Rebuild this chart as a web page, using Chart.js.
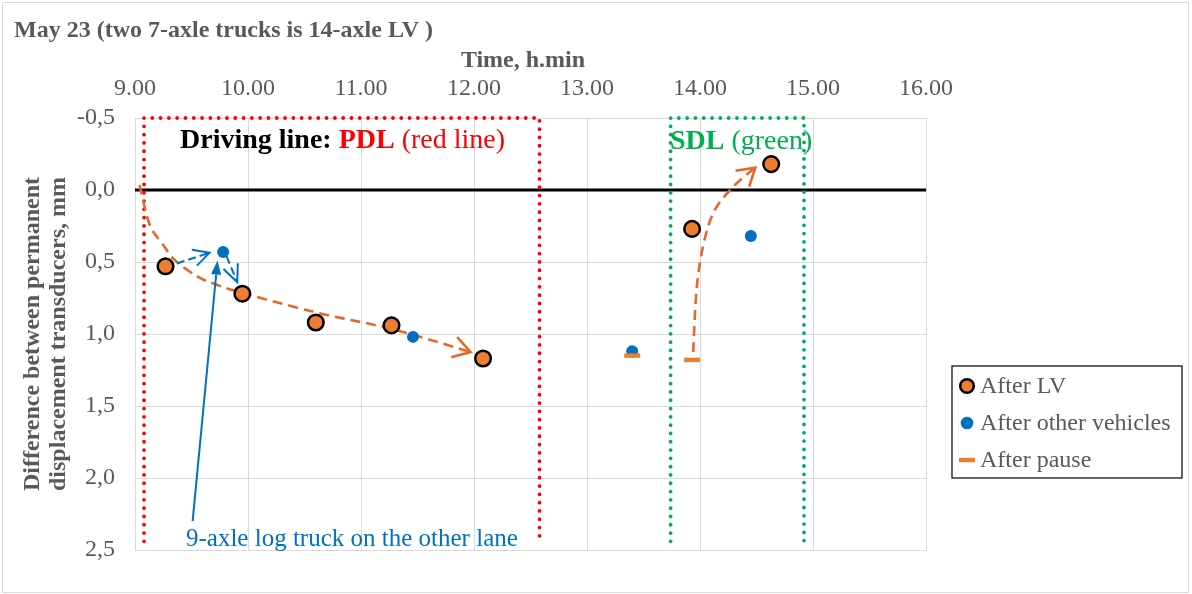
<!DOCTYPE html>
<html>
<head>
<meta charset="utf-8">
<script src="https://cdn.jsdelivr.net/npm/chart.js@4.4.1/dist/chart.umd.min.js"></script>
<style>
  html, body { margin: 0; padding: 0; background: #ffffff; }
  #wrap { position: relative; width: 1192px; height: 594px; }
</style>
</head>
<body>
<div id="wrap"><canvas id="c" width="1192" height="594"></canvas></div>
<script>
// Time of day (h.min) and difference between permanent displacement transducers (mm)
const timeTicks = [9, 10, 11, 12, 13, 14, 15, 16];
const diffTicks = [-0.5, 0, 0.5, 1.0, 1.5, 2.0, 2.5];

const lvTime = [9.27, 9.95, 10.60, 11.27, 12.08, 13.93, 14.63];
const lvDiff = [0.53, 0.72, 0.92, 0.94, 1.17, 0.27, -0.18];

const otherTime = [9.78, 11.46, 13.40, 14.45];
const otherDiff = [0.43, 1.02, 1.12, 0.32];

const pauseTime = [13.40, 13.93];
const pauseDiff = [1.15, 1.18];

// Lane windows: PDL (red) and SDL (green)
const pdlWindow = [9.08, 12.58];
const sdlWindow = [13.74, 14.92];

// Hand-drawn trend arrows (time, mm)
const pdlTrend = [[9.04, -0.035], [9.13, 0.24], [9.24, 0.37], [9.35, 0.485], [9.55, 0.60],
                  [9.73, 0.66], [9.93, 0.71], [10.60, 0.85], [11.27, 0.965], [11.97, 1.125]];
const sdlTrend = [[13.94, 1.125], [13.97, 0.69], [14.03, 0.38], [14.13, 0.14], [14.31, -0.035], [14.49, -0.155]];
const blueArrowA = [[9.37, 0.51], [9.66, 0.436]];
const blueArrowB = [[9.81, 0.46], [9.905, 0.64]];
const logTruckPointer = [[9.51, 2.30], [9.73, 0.49]];

const toPts = (xs, ys) => xs.map((v, i) => ({ x: v, y: ys[i] }));

const ORANGE = '#ED7D31', BLUE = '#0070C0', RED = '#FF0000', GREEN = '#00B050', GREY = '#595959';
const SERIF = '"Liberation Serif", "Times New Roman", serif';

function smoothPath(ctx, pts) {
  ctx.moveTo(pts[0][0], pts[0][1]);
  for (let i = 0; i < pts.length - 1; i++) {
    const p0 = pts[i - 1] || pts[i], p1 = pts[i], p2 = pts[i + 1], p3 = pts[i + 2] || p2;
    ctx.bezierCurveTo(p1[0] + (p2[0] - p0[0]) / 6, p1[1] + (p2[1] - p0[1]) / 6,
                      p2[0] - (p3[0] - p1[0]) / 6, p2[1] - (p3[1] - p1[1]) / 6,
                      p2[0], p2[1]);
  }
}

function openHead(ctx, tip, from, len, half) {
  const ang = Math.atan2(tip[1] - from[1], tip[0] - from[0]);
  ctx.setLineDash([]);
  ctx.beginPath();
  ctx.moveTo(tip[0] - len * Math.cos(ang - half), tip[1] - len * Math.sin(ang - half));
  ctx.lineTo(tip[0], tip[1]);
  ctx.lineTo(tip[0] - len * Math.cos(ang + half), tip[1] - len * Math.sin(ang + half));
  ctx.stroke();
}

const annotations = {
  id: 'annotations',
  beforeDraw(chart) {
    const ctx = chart.ctx;
    ctx.save();
    ctx.fillStyle = '#ffffff';
    ctx.fillRect(0, 0, chart.width, chart.height);
    ctx.strokeStyle = '#D9D9D9';
    ctx.lineWidth = 1;
    ctx.strokeRect(2.5, 2.5, 1186, 590);
    ctx.restore();
  },
  beforeDatasetsDraw(chart) {
    const { ctx, chartArea: a, scales: { x, y } } = chart;
    const P = (p) => [x.getPixelForValue(p[0]), y.getPixelForValue(p[1])];
    ctx.save();

    // zero line
    ctx.strokeStyle = '#000000';
    ctx.lineWidth = 3;
    ctx.beginPath();
    ctx.moveTo(a.left, y.getPixelForValue(0));
    ctx.lineTo(a.right, y.getPixelForValue(0));
    ctx.stroke();

    // dotted lane windows
    const dotted = (win, color) => {
      const l = x.getPixelForValue(win[0]), r = x.getPixelForValue(win[1]);
      const t = y.getPixelForValue(-0.5), b = y.getPixelForValue(2.44);
      ctx.strokeStyle = color;
      ctx.lineWidth = 3.8;
      ctx.lineCap = 'round';
      ctx.setLineDash([0, 8.3]);
      ctx.beginPath();
      ctx.moveTo(l, b); ctx.lineTo(l, t); ctx.lineTo(r, t); ctx.lineTo(r, b);
      ctx.stroke();
    };
    dotted(pdlWindow, RED);
    dotted(sdlWindow, GREEN);
    ctx.lineCap = 'butt';

    // orange dashed trend arrows
    ctx.strokeStyle = '#E2692B';
    ctx.lineWidth = 2.6;
    [pdlTrend, sdlTrend].forEach(tr => {
      const pts = tr.map(P);
      ctx.setLineDash([10, 6]);
      ctx.beginPath();
      smoothPath(ctx, pts);
      ctx.stroke();
      const n = pts.length;
      openHead(ctx, pts[n - 1], pts[n - 2], 20, 0.55);
    });

    // blue dashed arrows around the log truck passage
    ctx.strokeStyle = BLUE;
    ctx.lineWidth = 2;
    [[blueArrowA, 18, 0.48], [blueArrowB, 19, 0.42]].forEach(([ar, len, half]) => {
      const p = ar.map(P);
      ctx.setLineDash([8, 4]);
      ctx.beginPath();
      ctx.moveTo(p[0][0], p[0][1]);
      ctx.lineTo(p[1][0], p[1][1]);
      ctx.stroke();
      openHead(ctx, p[1], p[0], len, half);
    });

    // solid pointer to the blue point
    const lp = logTruckPointer.map(P);
    const ang = Math.atan2(lp[1][1] - lp[0][1], lp[1][0] - lp[0][0]);
    const tip = lp[1];
    const base = [tip[0] - 14 * Math.cos(ang), tip[1] - 14 * Math.sin(ang)];
    ctx.setLineDash([]);
    ctx.beginPath();
    ctx.moveTo(lp[0][0], lp[0][1]);
    ctx.lineTo(base[0], base[1]);
    ctx.stroke();
    ctx.fillStyle = BLUE;
    ctx.beginPath();
    ctx.moveTo(tip[0], tip[1]);
    ctx.lineTo(base[0] + 5 * Math.sin(ang), base[1] - 5 * Math.cos(ang));
    ctx.lineTo(base[0] - 5 * Math.sin(ang), base[1] + 5 * Math.cos(ang));
    ctx.closePath();
    ctx.fill();

    ctx.restore();
  },
  afterDraw(chart) {
    const ctx = chart.ctx;
    ctx.save();
    ctx.textBaseline = 'alphabetic';
    ctx.textAlign = 'left';

    // title
    ctx.fillStyle = GREY;
    ctx.font = 'bold 24px ' + SERIF;
    ctx.fillText('May 23 (two 7-axle trucks is 14-axle LV )', 14, 37);

    // x axis title
    ctx.textAlign = 'center';
    ctx.fillText('Time, h.min', 523, 67);

    // y axis title
    ctx.save();
    ctx.rotate(-Math.PI / 2);
    ctx.fillText('Difference between permanent', -334, 39);
    ctx.fillText('displacement transducers, mm', -334, 65);
    ctx.restore();

    // lane labels
    ctx.textAlign = 'left';
    const runs = (xs, yb, parts) => {
      let cx = xs;
      parts.forEach(([txt, font, col]) => {
        ctx.font = font; ctx.fillStyle = col;
        ctx.fillText(txt, cx, yb);
        cx += ctx.measureText(txt).width;
      });
    };
    runs(180, 148, [
      ['Driving line: ', 'bold 28px ' + SERIF, '#000000'],
      ['PDL', 'bold 28px ' + SERIF, RED],
      [' (red line)', '28px ' + SERIF, RED]
    ]);
    runs(670, 149, [
      ['SDL', 'bold 28px ' + SERIF, GREEN],
      [' (green)', '28px ' + SERIF, GREEN]
    ]);
    ctx.font = '25px ' + SERIF;
    ctx.fillStyle = BLUE;
    ctx.fillText('9-axle log truck on the other lane', 186, 546);

    // legend
    ctx.strokeStyle = '#000000';
    ctx.lineWidth = 1.2;
    ctx.strokeRect(952, 366, 230, 112);
    const ds = chart.data.datasets;
    const rows = [386, 423, 460];
    ctx.font = '24px ' + SERIF;
    ctx.textBaseline = 'middle';
    ds.forEach((d, i) => {
      const cy = rows[i], cx = 967;
      if (d.pointStyle === 'line') {
        ctx.strokeStyle = d.borderColor;
        ctx.lineWidth = d.borderWidth;
        ctx.beginPath();
        ctx.moveTo(cx - 8, cy); ctx.lineTo(cx + 8, cy);
        ctx.stroke();
      } else {
        ctx.beginPath();
        ctx.arc(cx, cy, d.borderWidth ? 6.8 : 6.3, 0, Math.PI * 2);
        ctx.fillStyle = d.backgroundColor;
        ctx.fill();
        if (d.borderWidth) {
          ctx.strokeStyle = d.borderColor; ctx.lineWidth = 2.5; ctx.stroke();
        }
      }
      ctx.fillStyle = GREY;
      ctx.fillText(d.label, 980, cy + 1);
    });
    ctx.restore();
  }
};

new Chart(document.getElementById('c'), {
  type: 'scatter',
  data: {
    datasets: [
      { label: 'After LV', data: toPts(lvTime, lvDiff), pointRadius: 7.8, pointHoverRadius: 7.8,
        backgroundColor: ORANGE, borderColor: '#000000', borderWidth: 2.5, order: 1 },
      { label: 'After other vehicles', data: toPts(otherTime, otherDiff), pointRadius: 6, pointHoverRadius: 6,
        backgroundColor: BLUE, borderColor: BLUE, borderWidth: 0, order: 2 },
      { label: 'After pause', data: toPts(pauseTime, pauseDiff), pointStyle: 'line', pointRadius: 8, pointHoverRadius: 8,
        backgroundColor: ORANGE, borderColor: ORANGE, borderWidth: 4.5, order: 0 }
    ]
  },
  options: {
    responsive: false,
    animation: false,
    devicePixelRatio: 1,
    layout: { padding: { left: 0, top: 0, right: 266, bottom: 44 } },
    plugins: { legend: { display: false }, tooltip: { enabled: false }, title: { display: false } },
    scales: {
      x: {
        type: 'linear', position: 'top', min: 9, max: 16,
        afterFit: s => { s.height = 118; },
        afterBuildTicks: s => { s.ticks = timeTicks.map(v => ({ value: v })); },
        ticks: { callback: v => v.toFixed(2), color: GREY, padding: 15,
                 font: { family: SERIF, size: 24 }, maxRotation: 0 },
        grid: { color: '#D9D9D9', lineWidth: 1, drawTicks: false },
        border: { color: '#D9D9D9' }
      },
      y: {
        type: 'linear', reverse: true, min: -0.5, max: 2.5,
        afterFit: s => { s.width = 135; },
        afterBuildTicks: s => { s.ticks = diffTicks.map(v => ({ value: v })); },
        ticks: { callback: v => v.toFixed(1).replace('.', ','), color: GREY, padding: 20,
                 font: { family: SERIF, size: 24 } },
        grid: { color: '#D9D9D9', lineWidth: 1, drawTicks: false },
        border: { color: '#D9D9D9' }
      }
    }
  },
  plugins: [annotations]
});
</script>
</body>
</html>
